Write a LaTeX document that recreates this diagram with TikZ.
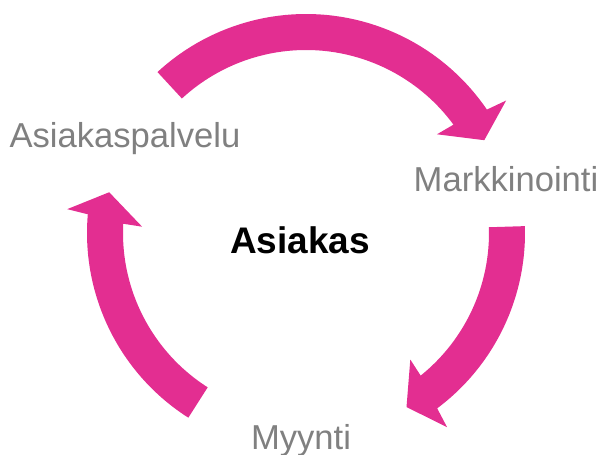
\documentclass[tikz,border=0pt]{standalone}
\usepackage{fontspec}
\setmainfont{Liberation Sans}
\usetikzlibrary{positioning}
\definecolor{cyclepink}{RGB}{227,46,145}
\definecolor{labelgray}{RGB}{128,128,128}

\begin{document}
\begin{tikzpicture}[x=0.5pt, y=0.5pt,
    phase/.style={text=labelgray, font=\fontsize{17.3}{20}\selectfont, anchor=base, inner sep=0pt},
    hub/.style={font=\bfseries\fontsize{18.5}{22}\selectfont, anchor=base, inner sep=0pt}]
    \useasboundingbox (0,0) rectangle (600,455);
    \coordinate (c) at (306,222);

    \node[hub] (asiakas) at (300,201) {Asiakas};
    \node[phase] (palvelu) at (125,307) {Asiakaspalvelu};
    \node[phase] (markkinointi) at (506,263) {Markkinointi};
    \node[phase] (myynti) at (301,5) {Myynti};

    % kolme nuolta myötäpäivään
    \foreach \tail/\tip in {132.7/27.5, 1.8/-60, 237.5/168.3}
        \fill[cyclepink, shift={(c)}] (\tail:219) arc[start angle=\tail, end angle={\tip+6.8}, radius=219]
            -- ({\tip+6}:240) -- (\tip:201) -- ({\tip+9.5}:164) -- ({\tip+8.8}:183)
            arc[start angle={\tip+8.8}, end angle=\tail, radius=183] -- cycle;
\end{tikzpicture}
\end{document}
